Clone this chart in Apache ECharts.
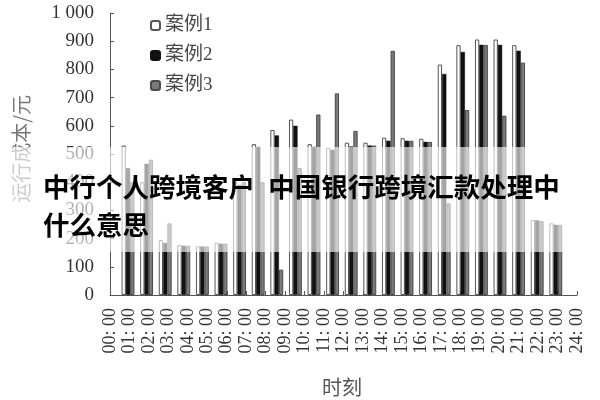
<!DOCTYPE html>
<html>
<head>
<meta charset="utf-8">
<script src="https://cdn.jsdelivr.net/npm/echarts@6/dist/echarts.min.js"></script>
<style>html,body{margin:0;padding:0;background:#fff;}#c{width:600px;height:400px;}</style>
</head>
<body>
<div id="c"></div>
<script>
const tickLabels = ['00: 00','01: 00','02: 00','03: 00','04: 00','05: 00','06: 00','07: 00','08: 00','09: 00','10: 00','11: 00','12: 00','13: 00','14: 00','15: 00','16: 00','17: 00','18: 00','19: 00','20: 00','21: 00','22: 00','23: 00','24: 00'];
const periods = tickLabels.slice(0, 24);
const case1 = [530, 400, 195, 177, 173, 185, 400, 535, 585, 622, 535, 522, 540, 540, 558, 556, 554, 817, 886, 906, 906, 886, 266, 254];
const case2 = [450, 465, 185, 175, 172, 182, 390, 525, 566, 600, 525, 515, 527, 530, 547, 547, 543, 784, 862, 887, 887, 866, 265, 249];
const case3 = [400, 480, 254, 175, 172, 182, 400, 400, 90, 450, 640, 715, 582, 530, 866, 547, 543, 325, 656, 887, 636, 824, 262, 249];
const seriesNames = ['案例1', '案例2', '案例3'];
const yTicks = {min: 0, max: 1000, interval: 100};

const serif = '"Liberation Serif", "Noto Sans CJK SC", serif';
const chart = echarts.init(document.getElementById('c'));
chart.setOption({
  animation: false,
  backgroundColor: '#fff',
  grid: [
    {left: 110, right: 23, top: 13, bottom: 105},
    {left: 118.7, right: 34.9, top: 13, bottom: 105}
  ],
  legend: {
    orient: 'vertical', left: 145, top: 11, itemWidth: 9, itemHeight: 9, itemGap: 11,
    textStyle: {fontFamily: serif, fontSize: 19, color: '#444'},
    data: seriesNames
  },
  xAxis: [
    {type: 'category', gridIndex: 0, data: tickLabels, boundaryGap: false,
     axisLine: {lineStyle: {color: '#555'}},
     axisTick: {inside: true, length: 4, lineStyle: {color: '#555'}},
     axisLabel: {rotate: 90, margin: 13, interval: 0, fontFamily: serif, fontSize: 18, color: '#333'}},
    {type: 'category', gridIndex: 1, data: periods, show: false}
  ],
  yAxis: [
    {type: 'value', gridIndex: 0, min: yTicks.min, max: yTicks.max, interval: yTicks.interval,
     axisLine: {show: true, lineStyle: {color: '#555'}},
     axisTick: {show: true, inside: true, length: 4, lineStyle: {color: '#555'}},
     splitLine: {show: false},
     axisLabel: {margin: 16, fontFamily: serif, fontSize: 19, color: '#333',
       formatter: v => v >= 1000 ? String(v).replace(/(\d)(\d{3})$/, '$1 $2') : String(v)}},
    {type: 'value', gridIndex: 1, min: yTicks.min, max: yTicks.max, show: false}
  ],
  series: [
    {name: seriesNames[0], type: 'bar', xAxisIndex: 1, yAxisIndex: 1, data: case1,
     barWidth: 4.3, barGap: '0%', itemStyle: {color: '#fff', borderColor: '#555', borderWidth: 1}},
    {name: seriesNames[1], type: 'bar', xAxisIndex: 1, yAxisIndex: 1, data: case2,
     barWidth: 4.3, barGap: '0%', itemStyle: {color: '#111', borderColor: '#111', borderWidth: 0.5}},
    {name: seriesNames[2], type: 'bar', xAxisIndex: 1, yAxisIndex: 1, data: case3,
     barWidth: 4.3, barGap: '0%', itemStyle: {color: '#7a7a7a', borderColor: '#4a4a4a', borderWidth: 1}}
  ],
  graphic: [
    {type: 'text', left: 11, top: 95, rotation: Math.PI / 2, z: 50,
     style: {text: '运行成本/元', font: '20px "Noto Sans CJK SC"', fill: '#777'}},
    {type: 'text', left: 322, top: 377, z: 50,
     style: {text: '时刻', font: '20px "Noto Sans CJK SC"', fill: '#555'}},
    {type: 'rect', left: 0, top: 147, z: 100, shape: {width: 600, height: 105},
     style: {fill: 'rgba(255,255,255,0.62)'}},
    {type: 'text', left: 43, top: 174, z: 110,
     style: {text: '中行个人跨境客户\u2002中国银行跨境汇款处理中', font: 'bold 26.5px "Noto Sans CJK SC"', fill: '#000'}},
    {type: 'text', left: 43, top: 212, z: 110,
     style: {text: '什么意思', font: 'bold 26.5px "Noto Sans CJK SC"', fill: '#000'}}
  ]
});
</script>
</body>
</html>
